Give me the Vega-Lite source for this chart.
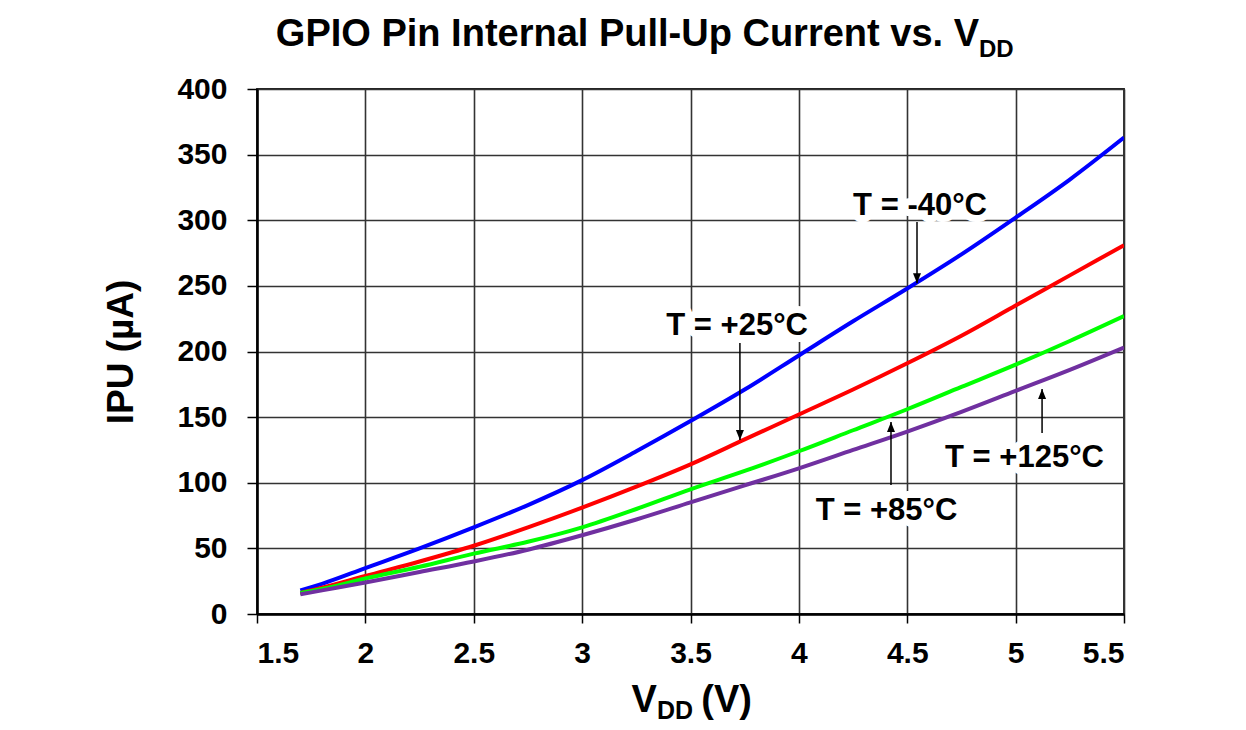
{
  "$schema": "https://vega.github.io/schema/vega-lite/v6.json",
  "width": 867,
  "height": 525,
  "autosize": {"type": "none"},
  "padding": {"left": 257, "top": 89, "right": 122, "bottom": 116},
  "background": "white",
  "config": {
    "font": "Liberation Sans",
    "view": {"stroke": "#222222", "strokeWidth": 1.8},
    "axis": {
      "labelFont": "Liberation Sans",
      "labelFontWeight": "bold",
      "labelFontSize": 30,
      "labelColor": "black",
      "titleFont": "Liberation Sans",
      "titleFontWeight": "bold",
      "titleColor": "black",
      "grid": true,
      "gridColor": "#333333",
      "gridWidth": 1.6,
      "gridOpacity": 1,
      "domainColor": "black",
      "domainWidth": 2.5,
      "tickColor": "black",
      "tickWidth": 1.5
    },
    "axisX": {"tickSize": 9, "labelPadding": 15},
    "axisY": {"tickSize": 10, "labelPadding": 20, "titleFontSize": 37, "titlePadding": 36}
  },
  "datasets": {
    "curves": [
      {"v": 1.7, "ipu": 18, "t": "-40"}, {"v": 1.8, "ipu": 23, "t": "-40"}, {"v": 2.0, "ipu": 35, "t": "-40"}, {"v": 2.25, "ipu": 50, "t": "-40"}, {"v": 2.5, "ipu": 66, "t": "-40"}, {"v": 2.75, "ipu": 83, "t": "-40"}, {"v": 3.0, "ipu": 102, "t": "-40"}, {"v": 3.25, "ipu": 124, "t": "-40"}, {"v": 3.5, "ipu": 147, "t": "-40"}, {"v": 3.75, "ipu": 171, "t": "-40"}, {"v": 4.0, "ipu": 197, "t": "-40"}, {"v": 4.25, "ipu": 223, "t": "-40"}, {"v": 4.5, "ipu": 248, "t": "-40"}, {"v": 4.75, "ipu": 274, "t": "-40"}, {"v": 5.0, "ipu": 302, "t": "-40"}, {"v": 5.25, "ipu": 331, "t": "-40"}, {"v": 5.5, "ipu": 363, "t": "-40"},
      {"v": 1.7, "ipu": 16, "t": "+25"}, {"v": 1.8, "ipu": 20, "t": "+25"}, {"v": 2.0, "ipu": 29, "t": "+25"}, {"v": 2.25, "ipu": 40, "t": "+25"}, {"v": 2.5, "ipu": 52, "t": "+25"}, {"v": 2.75, "ipu": 66, "t": "+25"}, {"v": 3.0, "ipu": 81, "t": "+25"}, {"v": 3.25, "ipu": 97, "t": "+25"}, {"v": 3.5, "ipu": 114, "t": "+25"}, {"v": 3.75, "ipu": 133, "t": "+25"}, {"v": 4.0, "ipu": 152, "t": "+25"}, {"v": 4.25, "ipu": 171, "t": "+25"}, {"v": 4.5, "ipu": 191, "t": "+25"}, {"v": 4.75, "ipu": 212, "t": "+25"}, {"v": 5.0, "ipu": 235, "t": "+25"}, {"v": 5.25, "ipu": 258, "t": "+25"}, {"v": 5.5, "ipu": 281, "t": "+25"},
      {"v": 1.7, "ipu": 16, "t": "+85"}, {"v": 1.8, "ipu": 19, "t": "+85"}, {"v": 2.0, "ipu": 27, "t": "+85"}, {"v": 2.25, "ipu": 36, "t": "+85"}, {"v": 2.5, "ipu": 46, "t": "+85"}, {"v": 2.75, "ipu": 55, "t": "+85"}, {"v": 3.0, "ipu": 66, "t": "+85"}, {"v": 3.25, "ipu": 80, "t": "+85"}, {"v": 3.5, "ipu": 95, "t": "+85"}, {"v": 3.75, "ipu": 109, "t": "+85"}, {"v": 4.0, "ipu": 124, "t": "+85"}, {"v": 4.25, "ipu": 140, "t": "+85"}, {"v": 4.5, "ipu": 156, "t": "+85"}, {"v": 4.75, "ipu": 173, "t": "+85"}, {"v": 5.0, "ipu": 190, "t": "+85"}, {"v": 5.25, "ipu": 208, "t": "+85"}, {"v": 5.5, "ipu": 227, "t": "+85"},
      {"v": 1.7, "ipu": 15, "t": "+125"}, {"v": 1.8, "ipu": 18, "t": "+125"}, {"v": 2.0, "ipu": 24, "t": "+125"}, {"v": 2.25, "ipu": 32, "t": "+125"}, {"v": 2.5, "ipu": 40, "t": "+125"}, {"v": 2.75, "ipu": 49, "t": "+125"}, {"v": 3.0, "ipu": 60, "t": "+125"}, {"v": 3.25, "ipu": 72, "t": "+125"}, {"v": 3.5, "ipu": 85, "t": "+125"}, {"v": 3.75, "ipu": 98, "t": "+125"}, {"v": 4.0, "ipu": 111, "t": "+125"}, {"v": 4.25, "ipu": 125, "t": "+125"}, {"v": 4.5, "ipu": 139, "t": "+125"}, {"v": 4.75, "ipu": 154, "t": "+125"}, {"v": 5.0, "ipu": 170, "t": "+125"}, {"v": 5.25, "ipu": 186, "t": "+125"}, {"v": 5.5, "ipu": 203, "t": "+125"}
    ],
    "notes": [
      {"label": "T = -40°C", "tx": 4.559, "ty": 304, "ax": 4.545, "ay1": 298.7, "ay2": 252},
      {"label": "T = +25°C", "tx": 3.715, "ty": 212.6, "ax": 3.728, "ay1": 206.5, "ay2": 132.6},
      {"label": "T = +85°C", "tx": 4.404, "ty": 71.6, "ax": 4.425, "ay1": 98.3, "ay2": 146.3},
      {"label": "T = +125°C", "tx": 5.041, "ty": 112, "ax": 5.122, "ay1": 137.9, "ay2": 171.4}
    ]
  },
  "layer": [
    {
      "data": {"name": "curves"},
      "mark": {"type": "line", "strokeWidth": 4, "interpolate": "monotone", "clip": true},
      "encoding": {
        "x": {
          "field": "v", "type": "quantitative",
          "scale": {"domain": [1.5, 5.5], "nice": false, "zero": false},
          "axis": {"title": null, "values": [1.5, 2, 2.5, 3, 3.5, 4, 4.5, 5, 5.5], "format": "~g", "tickSize": 9, "labelPadding": 15, "grid": true}
        },
        "y": {
          "field": "ipu", "type": "quantitative",
          "scale": {"domain": [0, 400], "nice": false},
          "axis": {"title": "IPU (µA)", "titleFontSize": 37, "titlePadding": 36, "values": [0, 50, 100, 150, 200, 250, 300, 350, 400], "tickSize": 10, "labelPadding": 20, "grid": true}
        },
        "color": {
          "field": "t", "type": "nominal",
          "scale": {"domain": ["-40", "+25", "+85", "+125"], "range": ["#0000FF", "#FF0000", "#00FF00", "#7030A0"]},
          "legend": null
        }
      }
    },
    {
      "data": {"name": "notes"},
      "mark": {"type": "text", "fontSize": 31, "fontWeight": "bold", "align": "center", "baseline": "alphabetic", "fill": "white", "stroke": "white", "strokeWidth": 14, "strokeJoin": "round"},
      "encoding": {
        "x": {"field": "tx", "type": "quantitative", "scale": {"domain": [1.5, 5.5], "nice": false, "zero": false}},
        "y": {"field": "ty", "type": "quantitative", "scale": {"domain": [0, 400], "nice": false}},
        "text": {"field": "label"}
      }
    },
    {
      "data": {"name": "notes"},
      "mark": {"type": "text", "fontSize": 31, "fontWeight": "bold", "align": "center", "baseline": "alphabetic", "color": "black"},
      "encoding": {
        "x": {"field": "tx", "type": "quantitative", "scale": {"domain": [1.5, 5.5], "nice": false, "zero": false}},
        "y": {"field": "ty", "type": "quantitative", "scale": {"domain": [0, 400], "nice": false}},
        "text": {"field": "label"}
      }
    },
    {
      "data": {"name": "notes"},
      "mark": {"type": "rule", "color": "black", "strokeWidth": 1.5},
      "encoding": {
        "x": {"field": "ax", "type": "quantitative", "scale": {"domain": [1.5, 5.5], "nice": false, "zero": false}},
        "y": {"field": "ay1", "type": "quantitative", "scale": {"domain": [0, 400], "nice": false}},
        "y2": {"field": "ay2"}
      }
    },
    {
      "data": {"name": "notes"},
      "mark": {"type": "point", "filled": true, "color": "black", "size": 400, "opacity": 1, "strokeWidth": 0},
      "encoding": {
        "x": {"field": "ax", "type": "quantitative", "scale": {"domain": [1.5, 5.5], "nice": false, "zero": false}},
        "y": {"field": "ay2", "type": "quantitative", "scale": {"domain": [0, 400], "nice": false}},
        "shape": {
          "condition": {"test": "datum.ay2 < datum.ay1", "value": "M0,0L-0.4,-1L0.4,-1Z"},
          "value": "M0,0L-0.4,1L0.4,1Z"
        }
      }
    },
    {
      "data": {"values": [{}]},
      "mark": {"type": "text", "text": "GPIO Pin Internal Pull-Up Current vs. V", "fontSize": 38, "fontWeight": "bold", "align": "right", "baseline": "alphabetic", "color": "black"},
      "encoding": {
        "x": {"datum": 4.831, "type": "quantitative", "scale": {"domain": [1.5, 5.5], "nice": false, "zero": false}},
        "y": {"datum": 432.8, "type": "quantitative", "scale": {"domain": [0, 400], "nice": false}}
      }
    },
    {
      "data": {"values": [{}]},
      "mark": {"type": "text", "text": "DD", "fontSize": 24, "fontWeight": "bold", "align": "left", "baseline": "alphabetic", "color": "black"},
      "encoding": {
        "x": {"datum": 4.831, "type": "quantitative", "scale": {"domain": [1.5, 5.5], "nice": false, "zero": false}},
        "y": {"datum": 424.4, "type": "quantitative", "scale": {"domain": [0, 400], "nice": false}}
      }
    },
    {
      "data": {"values": [{}]},
      "mark": {"type": "text", "text": "V", "fontSize": 38, "fontWeight": "bold", "align": "right", "baseline": "alphabetic", "color": "black"},
      "encoding": {
        "x": {"datum": 3.345, "type": "quantitative", "scale": {"domain": [1.5, 5.5], "nice": false, "zero": false}},
        "y": {"datum": -74.7, "type": "quantitative", "scale": {"domain": [0, 400], "nice": false}}
      }
    },
    {
      "data": {"values": [{}]},
      "mark": {"type": "text", "text": "DD", "fontSize": 25, "fontWeight": "bold", "align": "left", "baseline": "alphabetic", "color": "black"},
      "encoding": {
        "x": {"datum": 3.345, "type": "quantitative", "scale": {"domain": [1.5, 5.5], "nice": false, "zero": false}},
        "y": {"datum": -80, "type": "quantitative", "scale": {"domain": [0, 400], "nice": false}}
      }
    },
    {
      "data": {"values": [{}]},
      "mark": {"type": "text", "text": "(V)", "fontSize": 38, "fontWeight": "bold", "align": "left", "baseline": "alphabetic", "color": "black"},
      "encoding": {
        "x": {"datum": 3.55, "type": "quantitative", "scale": {"domain": [1.5, 5.5], "nice": false, "zero": false}},
        "y": {"datum": -74.7, "type": "quantitative", "scale": {"domain": [0, 400], "nice": false}}
      }
    }
  ]
}
